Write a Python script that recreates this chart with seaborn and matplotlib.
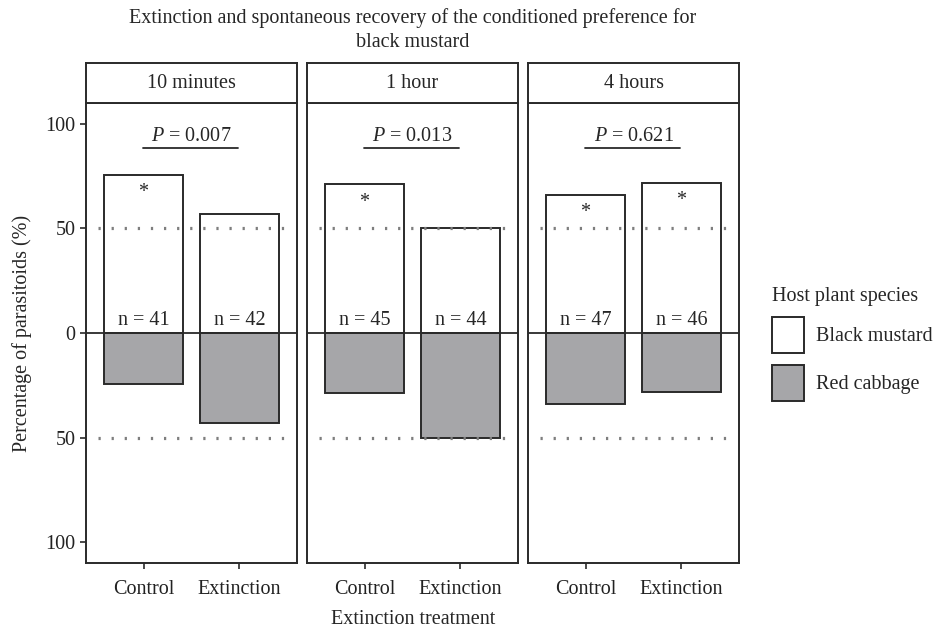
import numpy as np
import pandas as pd
import seaborn as sns
import matplotlib.pyplot as plt

# values (percent of parasitoids choosing each plant)
times = ['10 minutes', '1 hour', '4 hours']
treatments = ['Control', 'Extinction']
species = ['Black mustard', 'Red cabbage']
black_mustard = [75.6, 57.1, 71.1, 50.0, 66.0, 71.7]
red_cabbage = [24.4, 43.0, 28.9, 50.0, 34.0, 28.3]
n_values = [41, 42, 45, 44, 47, 46]
signif = [True, False, True, False, True, True]
p_values = ['0.007', '0.013', '0.621']

rows = []
k = 0
for t in times:
    for tr in treatments:
        rows.append({'time': t, 'treatment': tr, 'species': 'Black mustard', 'value': black_mustard[k]})
        rows.append({'time': t, 'treatment': tr, 'species': 'Red cabbage', 'value': -red_cabbage[k]})
        k += 1
df = pd.DataFrame(rows)

sns.set_style('ticks')
plt.rcParams['font.family'] = ['Liberation Serif', 'DejaVu Serif']
plt.rcParams['mathtext.fontset'] = 'custom'
plt.rcParams['mathtext.it'] = 'Liberation Serif:italic'
plt.rcParams['mathtext.rm'] = 'Liberation Serif'

edge = '#2a2a2a'
gray = '#a6a6a9'
fs = 14.5
W, H = 941, 631

fig = plt.figure(figsize=(9.41, 6.31), dpi=100)
lefts = [86, 307, 528]
pw = 211

handles, labels = None, None
for i, t in enumerate(times):
    ax = fig.add_axes([lefts[i] / W, 68 / H, pw / W, 460 / H])
    sax = fig.add_axes([lefts[i] / W, 528 / H, pw / W, 40 / H])
    sub = df[df['time'] == t]
    sns.barplot(data=sub, x='treatment', y='value', hue='species', order=treatments,
                hue_order=species, dodge=False, palette={'Black mustard': 'white', 'Red cabbage': gray},
                edgecolor=edge, linewidth=1.4, width=0.82, errorbar=None, ax=ax)
    if i == 0:
        handles, labels = ax.get_legend_handles_labels()
    if ax.get_legend() is not None:
        ax.get_legend().remove()

    ax.set_xlim(-0.6, 1.6)
    ax.set_ylim(-110, 110)
    ax.axhline(0, color=edge, lw=1.3, zorder=3)
    for yv in [50, -50]:
        ax.hlines(yv, -0.47, 1.5, color='#7e7e7e', lw=2.3, linestyle=(0, (0.7, 3.4)), zorder=4)

    # p-value with underline
    ax.text(0.5, 94, r'$P$ = ' + p_values[i], ha='center', va='center', fontsize=fs)
    ax.plot([-0.01, 0.99], [88.7, 88.7], color=edge, lw=1.3)

    for j in range(2):
        idx = i * 2 + j
        ax.text(j, 6, f'n = {n_values[idx]}', ha='center', va='center', fontsize=fs, zorder=5)
        if signif[idx]:
            ax.text(j, black_mustard[idx] - 8.5, '*', ha='center', va='center', fontsize=fs)

    ax.set_xlabel('')
    ax.set_ylabel('')
    ax.set_yticks([-100, -50, 0, 50, 100])
    ax.set_yticklabels(['100', '50', '0', '50', '100'])
    ax.tick_params(axis='both', colors=edge, labelcolor='#222222', labelsize=fs, width=1.2, length=4)
    ax.tick_params(axis='x', pad=8)
    if i > 0:
        ax.tick_params(axis='y', left=False, labelleft=False)
    for s in ax.spines.values():
        s.set_visible(True)
        s.set_color(edge)
        s.set_linewidth(1.4)

    # strip
    sax.set_xticks([])
    sax.set_yticks([])
    sax.text(0.5, 0.5, t, ha='center', va='center', fontsize=fs, transform=sax.transAxes)
    for s in sax.spines.values():
        s.set_visible(True)
        s.set_color(edge)
        s.set_linewidth(1.4)

fig.text(413 / W, 1 - 30 / H,
         'Extinction and spontaneous recovery of the conditioned preference for\nblack mustard',
         ha='center', va='center', fontsize=fs, linespacing=1.35)
fig.text(413 / W, 1 - 620 / H, 'Extinction treatment', ha='center', va='center', fontsize=fs)
fig.text(22 / W, 1 - 333 / H, 'Percentage of parasitoids (%)', ha='center', va='center',
         rotation=90, fontsize=fs)

fig.legend(handles, labels, title='Host plant species', loc='upper left',
           bbox_to_anchor=(772 / W, 1 - 287 / H), frameon=False, fontsize=fs,
           title_fontsize=fs, handlelength=1.6, handleheight=2.4, labelspacing=0.55,
           handletextpad=0.6, borderpad=0, borderaxespad=0, alignment='left')

fig.savefig('out.png', dpi=100)
